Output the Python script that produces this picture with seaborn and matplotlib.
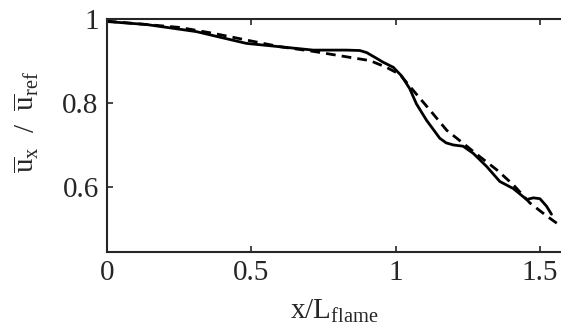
import numpy as np
import pandas as pd
import matplotlib
matplotlib.use('Agg')
import matplotlib.pyplot as plt
import seaborn as sns

# --- dados ---
x_solida = [0.0, 0.136, 0.229, 0.31, 0.39, 0.483, 0.599, 0.714, 0.83, 0.876, 0.9, 0.93, 0.957,
            0.992, 1.02, 1.049, 1.072, 1.107, 1.153, 1.175, 1.2, 1.234, 1.269, 1.315, 1.361,
            1.408, 1.454, 1.477, 1.5, 1.523, 1.54]
y_solida = [0.994, 0.987, 0.978, 0.970, 0.957, 0.942, 0.934, 0.926, 0.926, 0.925, 0.920, 0.908, 0.897,
            0.885, 0.865, 0.834, 0.798, 0.759, 0.716, 0.705, 0.700, 0.697, 0.680, 0.649, 0.613,
            0.596, 0.570, 0.574, 0.572, 0.554, 0.535]

x_tracejada = [0.0, 0.136, 0.252, 0.368, 0.483, 0.6, 0.714, 0.83, 0.911, 0.968, 1.015, 1.061,
               1.119, 1.177, 1.234, 1.292, 1.35, 1.408, 1.465, 1.523, 1.58]
y_tracejada = [0.995, 0.987, 0.980, 0.966, 0.950, 0.934, 0.923, 0.910, 0.901, 0.885, 0.868, 0.830,
               0.783, 0.735, 0.704, 0.672, 0.641, 0.605, 0.562, 0.531, 0.503]

x_ticks = [0, 0.5, 1, 1.5]
x_tick_labels = ['0', '0.5', '1', '1.5']
y_ticks = [0.6, 0.8, 1.0]
y_tick_labels = ['0.6', '0.8', '1']

df_sol = pd.DataFrame({'x': x_solida, 'y': y_solida})
df_tra = pd.DataFrame({'x': x_tracejada, 'y': y_tracejada})

sns.set_theme(style='ticks')
plt.rcParams['font.family'] = ['Liberation Serif', 'DejaVu Serif']
plt.rcParams['mathtext.fontset'] = 'custom'
plt.rcParams['mathtext.rm'] = 'Liberation Serif'
plt.rcParams['mathtext.it'] = 'Liberation Serif:italic'

fig = plt.figure(figsize=(5.61, 3.34), dpi=100)
ax = fig.add_axes([0.1907, 0.2455, 0.8093, 0.6975])

sns.lineplot(data=df_sol, x='x', y='y', ax=ax, color='black', linewidth=2, sort=False)
sns.lineplot(data=df_tra, x='x', y='y', ax=ax, color='black', linewidth=2,
             linestyle=(0, (3.5, 2.2)), sort=False)

ax.set_xlim(0, 1.573)
ax.set_ylim(0.445, 1.0)
ax.set_xticks(x_ticks)
ax.set_xticklabels(x_tick_labels)
ax.set_yticks(y_ticks)
ax.set_yticklabels(y_tick_labels)
ax.tick_params(direction='in', length=4, width=1.2, labelsize=21, colors='#262626',
               top=True, right=False, pad=6)
for lado in ['left', 'bottom', 'top']:
    ax.spines[lado].set_linewidth(1.5)
    ax.spines[lado].set_color('#262626')
ax.spines['right'].set_visible(False)

ax.set_xlabel(r'x/L$_{\mathrm{flame}}$', fontsize=21, labelpad=8, color='#262626')
ax.set_ylabel(r'$\overline{\mathrm{u}}_{\mathrm{x}}$  /  $\overline{\mathrm{u}}_{\mathrm{ref}}$',
              fontsize=21, labelpad=10, color='#262626')
ax.yaxis.set_label_coords(-0.145, 0.56)

fig.savefig('out.png', dpi=100)
